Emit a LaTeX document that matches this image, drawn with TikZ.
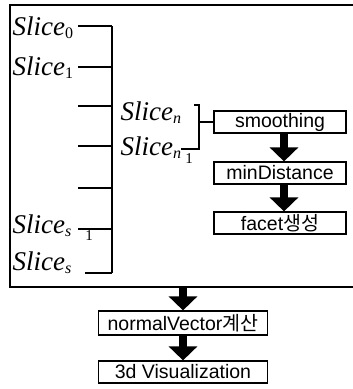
\documentclass[tikz,border=0pt]{standalone}
\usepackage{fontspec}
\setmainfont{Liberation Serif}
\newfontfamily\boxfont{Liberation Sans}
\newfontfamily\krfont{Noto Sans CJK KR}
\usetikzlibrary{arrows.meta}

\newcommand{\slc}[1]{\textit{Slice}\raisebox{-3pt}{\fontsize{16}{16}\selectfont #1}}

\begin{document}
\begin{tikzpicture}[x=1pt, y=-1pt, line width=1.2pt,
    stepbox/.style={draw, line width=1.2pt, minimum width=132pt, minimum height=22pt,
        inner sep=0pt, font=\boxfont\fontsize{19.5}{19.5}\selectfont},
    slicelabel/.style={anchor=base west, inner sep=0pt, font=\fontsize{27}{27}\selectfont},
    bigarrow/.style={line width=8pt, -{Triangle[width=28pt,length=14pt]}}]
    \useasboundingbox (0,0) rectangle (353,389);

    % Frame
    \draw (353,5) -- (10,5) -- (10,287) -- (353,287);

    % Slices on the left
    \node[slicelabel] (s0) at (12,35) {\slc{0}};
    \node[slicelabel] (s1) at (12,75) {\slc{1}};
    \node[slicelabel] (ss1) at (12,233) {\slc{\textit{s}}};
    \node[slicelabel] (ss) at (12,270) {\slc{\textit{s}}};
    \node[anchor=base, inner sep=0pt, font=\fontsize{15}{15}\selectfont] (one1) at (89,240) {1};

    % Left bracket
    \coordinate (a1) at (78,26);  \coordinate (b1) at (112,26);
    \coordinate (a2) at (78,67);  \coordinate (b2) at (112,67);
    \coordinate (a3) at (78,106); \coordinate (b3) at (112,106);
    \coordinate (a4) at (78,146); \coordinate (b4) at (112,146);
    \coordinate (a5) at (78,188); \coordinate (b5) at (112,188);
    \coordinate (a6) at (78,229); \coordinate (b6) at (112,229);
    \coordinate (a7) at (85,273); \coordinate (b7) at (112,273);
    \draw (a1) -- (b1);
    \draw (a2) -- (b2);
    \draw (a3) -- (b3);
    \draw (a4) -- (b4);
    \draw (a5) -- (b5);
    \draw (a6) -- (b6);
    \draw (a7) -- (b7);
    \draw (b1) -- (b7);

    % Slices n and n-1
    \node[slicelabel] (sn) at (120,120) {\slc{\textit{n}}};
    \node[slicelabel] (sn1) at (120,155) {\slc{\textit{n}}};
    \node[anchor=base, inner sep=0pt, font=\fontsize{15}{15}\selectfont] (one2) at (189,163) {1};

    % Processing boxes
    \node[stepbox] (smooth) at (280,122) {smoothing};
    \node[stepbox] (mindist) at (280,173) {minDistance};
    \node[stepbox] (facet) at (280,223) {facet{\krfont 생성}};

    % Right bracket
    \coordinate (c1) at (194,105); \coordinate (c2) at (199,105);
    \coordinate (c3) at (181,149); \coordinate (c4) at (199,149);
    \coordinate (c5) at (199,122);
    \draw (c1) -- (c2) -- (c4) -- (c3);
    \draw (c5) -- (smooth.west);

    % Arrows inside the frame
    \draw[bigarrow] ([xshift=4pt]smooth.south) -- ([xshift=4pt]mindist.north);
    \draw[bigarrow] ([xshift=4pt]mindist.south) -- ([xshift=4pt]facet.north);

    % After the frame
    \node[stepbox, minimum width=169pt, minimum height=24pt] (normal) at (183,323) {normalVector{\krfont 계산}};
    \node[stepbox, minimum width=169pt] (vis) at (183,372) {3d Visualization};
    \coordinate (fb) at (183,287);
    \draw[bigarrow] (fb) -- (normal.north);
    \draw[bigarrow] (normal.south) -- (vis.north);
\end{tikzpicture}
\end{document}
